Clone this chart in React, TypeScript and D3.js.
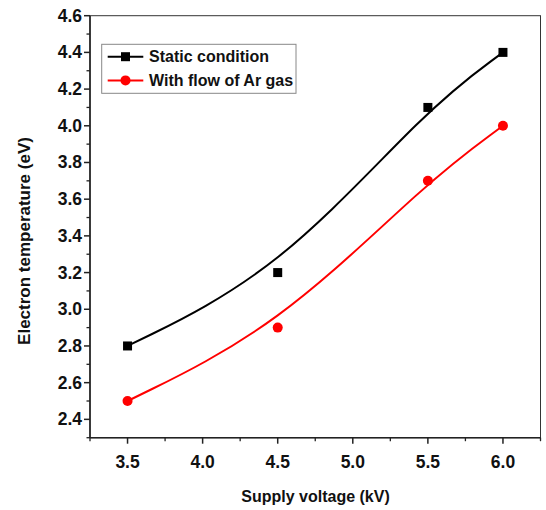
import React from "react";
import * as d3 from "d3";

// Electron temperature vs. supply voltage, two operating conditions
const voltages = [3.5, 4.5, 5.5, 6.0];
const staticTemps = [2.8, 3.2, 4.1, 4.4];
const argonTemps = [2.5, 2.9, 3.7, 4.0];
const seriesNames = ["Static condition", "With flow of Ar gas"];
const seriesColors = ["#000000", "#ff0000"];
const xTicks = [3.5, 4.0, 4.5, 5.0, 5.5, 6.0];
const xMinorTicks = [3.25, 3.75, 4.25, 4.75, 5.25, 5.75, 6.25];
const yTicks = [2.4, 2.6, 2.8, 3.0, 3.2, 3.4, 3.6, 3.8, 4.0, 4.2, 4.4, 4.6];
const yMinorTicks = [2.3, 2.5, 2.7, 2.9, 3.1, 3.3, 3.5, 3.7, 3.9, 4.1, 4.3, 4.5];

const W = 546;
const H = 510;
const plot = { left: 90, right: 540.5, top: 15.7, bottom: 437.7 };
const FONT = "'Liberation Sans', Arial, sans-serif";

export default function App() {
  const x = d3.scaleLinear().domain([3.25, 6.25]).range([plot.left, plot.right]);
  const y = d3.scaleLinear().domain([2.3, 4.6]).range([plot.bottom, plot.top]);

  const line = d3
    .line<[number, number]>()
    .x((d) => x(d[0]))
    .y((d) => y(d[1]))
    .curve(d3.curveBasis);

  const series = [staticTemps, argonTemps].map((vals) =>
    voltages.map((v, i) => [v, vals[i]] as [number, number])
  );

  const legend = { x: 101.7, y: 44.3, w: 194.3, h: 49 };

  return (
    <svg
      width={W}
      height={H}
      style={{ position: "absolute", left: 0, top: 0, background: "#fff" }}
      fontFamily={FONT}
    >
      <rect x={0} y={0} width={W} height={H} fill="#fff" />

      {/* frame */}
      <rect
        x={plot.left}
        y={plot.top}
        width={plot.right - plot.left}
        height={plot.bottom - plot.top}
        fill="none"
        stroke="#333"
        strokeWidth={1}
      />
      <line x1={plot.left} x2={plot.left} y1={plot.top} y2={plot.bottom} stroke="#222" strokeWidth={1.6} />
      <line x1={plot.left} x2={plot.right} y1={plot.bottom} y2={plot.bottom} stroke="#222" strokeWidth={1.6} />

      {/* y axis ticks */}
      {yTicks.map((t) => (
        <g key={"y" + t}>
          <line x1={plot.left - 6} x2={plot.left} y1={y(t)} y2={y(t)} stroke="#222" strokeWidth={1.5} />
          <text
            x={plot.left - 8}
            y={y(t)}
            textAnchor="end"
            dominantBaseline="central"
            fontSize={17.5}
            fontWeight="bold"
            fill="#111"
          >
            {t.toFixed(1)}
          </text>
        </g>
      ))}
      {yMinorTicks.map((t) => (
        <line key={"ym" + t} x1={plot.left - 3.5} x2={plot.left} y1={y(t)} y2={y(t)} stroke="#222" strokeWidth={1.3} />
      ))}

      {/* x axis ticks */}
      {xTicks.map((t) => (
        <g key={"x" + t}>
          <line x1={x(t)} x2={x(t)} y1={plot.bottom} y2={plot.bottom + 6} stroke="#222" strokeWidth={1.5} />
          <text
            x={x(t)}
            y={462}
            textAnchor="middle"
            dominantBaseline="central"
            fontSize={17.5}
            fontWeight="bold"
            fill="#111"
          >
            {t.toFixed(1)}
          </text>
        </g>
      ))}
      {xMinorTicks.map((t) => (
        <line key={"xm" + t} x1={x(t)} x2={x(t)} y1={plot.bottom} y2={plot.bottom + 3.5} stroke="#222" strokeWidth={1.3} />
      ))}

      {/* axis titles */}
      <text x={315.5} y={496} textAnchor="middle" dominantBaseline="central" fontSize={16} fontWeight="bold" fill="#111">
        Supply voltage (kV)
      </text>
      <text
        transform="translate(24,241) rotate(-90)"
        textAnchor="middle"
        dominantBaseline="central"
        fontSize={17}
        fontWeight="bold"
        fill="#111"
      >
        Electron temperature (eV)
      </text>

      {/* curves and markers */}
      {series.map((pts, si) => (
        <g key={"s" + si}>
          <path d={line(pts) || ""} fill="none" stroke={seriesColors[si]} strokeWidth={2} />
          {pts.map((p, i) =>
            si === 0 ? (
              <rect key={i} x={x(p[0]) - 4.5} y={y(p[1]) - 4.5} width={9} height={9} fill={seriesColors[si]} />
            ) : (
              <circle key={i} cx={x(p[0])} cy={y(p[1])} r={5} fill={seriesColors[si]} />
            )
          )}
        </g>
      ))}

      {/* legend */}
      <rect x={legend.x} y={legend.y} width={legend.w} height={legend.h} fill="#fff" stroke="#888" strokeWidth={1} />
      {seriesNames.map((name, i) => {
        const ly = 56.7 + i * 23.7;
        return (
          <g key={name}>
            <line x1={107.7} x2={143.3} y1={ly} y2={ly} stroke={seriesColors[i]} strokeWidth={2} />
            {i === 0 ? (
              <rect x={125.5 - 4.5} y={ly - 4.5} width={9} height={9} fill={seriesColors[i]} />
            ) : (
              <circle cx={125.5} cy={ly} r={5} fill={seriesColors[i]} />
            )}
            <text x={149} y={ly} dominantBaseline="central" fontSize={16} fontWeight="bold" fill="#111">
              {name}
            </text>
          </g>
        );
      })}
    </svg>
  );
}
